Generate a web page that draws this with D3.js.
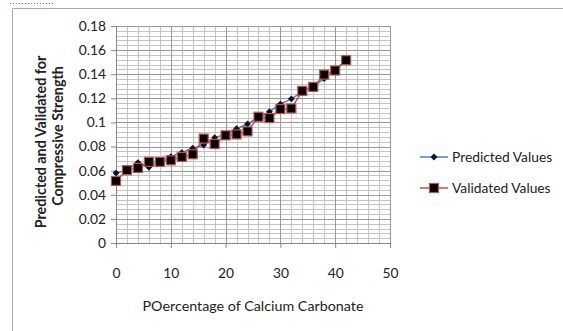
<!DOCTYPE html>
<html>
  <head>
    <meta charset="UTF-8">
    <title>Predicted vs Validated Compressive Strength</title>
    <script src="https://d3js.org/d3.v7.min.js"></script>
    <style>
      body { margin: 0; background: #fff; }
      svg text { font-family: Lato, "Open Sans", sans-serif; fill: #222; }
    </style>
  </head>
  <body>
    <script>

const percentage = [0, 2, 4, 6, 8, 10, 12, 14, 16, 18, 20, 22, 24, 26, 28, 30, 32, 34, 36, 38, 40, 42];
const predicted = [0.058, 0.0605, 0.0667, 0.0628, 0.0675, 0.0717, 0.075, 0.0786, 0.0813, 0.0874, 0.0901, 0.0948,
  0.0987, 0.1042, 0.1089, 0.1152, 0.1196, 0.1254, 0.130, 0.1364, 0.1439, 0.1516];
const validated = [0.0515, 0.0604, 0.0623, 0.0673, 0.0673, 0.0686, 0.0714, 0.0736, 0.0866, 0.0821, 0.0893, 0.0901,
  0.0926, 0.1047, 0.1036, 0.1111, 0.1116, 0.1262, 0.1295, 0.1397, 0.1431, 0.1516];
const xTicks = [0, 10, 20, 30, 40, 50];
const yTicks = [0, 0.02, 0.04, 0.06, 0.08, 0.1, 0.12, 0.14, 0.16, 0.18];
const seriesNames = ["Predicted Values", "Validated Values"];

const svgWidth = 563;
const svgHeight = 331;
const margin = {top: 26, right: 173, bottom: 88, left: 116};
const chartWidth = svgWidth - margin.left - margin.right;
const chartHeight = svgHeight - margin.top - margin.bottom;
const fontSize = 13.8;

const svg = d3.select("body")
  .append("svg")
  .attr("width", svgWidth)
  .attr("height", svgHeight);

// frame of the chart object
svg.append("path")
  .attr("d", "M12.5," + svgHeight + "V8.5H" + svgWidth)
  .attr("fill", "none")
  .attr("stroke", "#aaa");
svg.append("line")
  .attr("x1", 10).attr("x2", 55).attr("y1", 3.5).attr("y2", 3.5)
  .attr("stroke", "#e04040")
  .attr("stroke-dasharray", "1,2");

const chart = svg.append("g")
  .attr("transform", "translate(" + margin.left + "," + margin.top + ")");

const xScale = d3.scaleLinear().domain([0, 50]).range([0, chartWidth]);
const yScale = d3.scaleLinear().domain([0, 0.18]).range([chartHeight, 0]);

// minor grid
chart.append("g")
  .selectAll("line")
  .data(d3.range(0, 0.1801, 0.004))
  .join("line")
  .attr("x1", 0).attr("x2", chartWidth)
  .attr("y1", d => Math.round(yScale(d)) + 0.5)
  .attr("y2", d => Math.round(yScale(d)) + 0.5)
  .attr("stroke", "#c4c4c4");
chart.append("g")
  .selectAll("line")
  .data(d3.range(0, 50.01, 2))
  .join("line")
  .attr("y1", 0).attr("y2", chartHeight)
  .attr("x1", d => Math.round(xScale(d)) + 0.5)
  .attr("x2", d => Math.round(xScale(d)) + 0.5)
  .attr("stroke", "#c4c4c4");

// major grid
chart.append("g")
  .selectAll("line")
  .data(yTicks)
  .join("line")
  .attr("x1", 0).attr("x2", chartWidth)
  .attr("y1", d => Math.round(yScale(d)) + 0.5)
  .attr("y2", d => Math.round(yScale(d)) + 0.5)
  .attr("stroke", "#999");
chart.append("g")
  .selectAll("line")
  .data(xTicks)
  .join("line")
  .attr("y1", 0).attr("y2", chartHeight)
  .attr("x1", d => Math.round(xScale(d)) + 0.5)
  .attr("x2", d => Math.round(xScale(d)) + 0.5)
  .attr("stroke", "#999");

const xAxis = d3.axisBottom(xScale).tickValues(xTicks).tickSize(5).tickPadding(20).tickFormat(d3.format("d"));
const yAxis = d3.axisLeft(yScale).tickValues(yTicks).tickSize(5).tickPadding(5).tickFormat(d => d === 0 ? "0" : String(+d.toFixed(2)));

const gx = chart.append("g")
  .attr("transform", "translate(0," + chartHeight + ")")
  .call(xAxis);
const gy = chart.append("g").call(yAxis);
[gx, gy].forEach(g => {
  g.selectAll("path, line").attr("stroke", "#888");
  g.selectAll("text").attr("font-size", fontSize).attr("fill", "#222")
    .attr("font-family", "Lato, 'Open Sans', sans-serif");
});

// series
const line = d3.line()
  .x((d, i) => xScale(percentage[i]))
  .y(d => yScale(d));

chart.append("path")
  .datum(predicted)
  .attr("d", line)
  .attr("fill", "none")
  .attr("stroke", "#4a7ebb")
  .attr("stroke-width", 1.5);

chart.selectAll(".pred")
  .data(predicted)
  .join("path")
  .attr("class", "pred")
  .attr("transform", (d, i) => "translate(" + xScale(percentage[i]) + "," + yScale(d) + ")")
  .attr("d", d3.symbol(d3.symbolDiamond2, 30))
  .attr("fill", "#0a0f2a");

chart.append("path")
  .datum(validated)
  .attr("d", line)
  .attr("fill", "none")
  .attr("stroke", "#c0504d")
  .attr("stroke-width", 1.5);

chart.selectAll(".val")
  .data(validated)
  .join("rect")
  .attr("class", "val")
  .attr("x", (d, i) => xScale(percentage[i]) - 4.5)
  .attr("y", d => yScale(d) - 4.5)
  .attr("width", 9)
  .attr("height", 9)
  .attr("fill", "#000")
  .attr("stroke", "#c0504d")
  .attr("stroke-width", 1.2);

// axis titles
svg.append("text")
  .attr("transform", "translate(46,142) rotate(-90)")
  .attr("text-anchor", "middle")
  .attr("font-size", 14.3)
  .attr("font-weight", "bold")
  .text("Predicted and Validated for");
svg.append("text")
  .attr("transform", "translate(63,136) rotate(-90)")
  .attr("text-anchor", "middle")
  .attr("font-size", 14.3)
  .attr("font-weight", "bold")
  .text("Compressive Strength");
svg.append("text")
  .attr("x", 253)
  .attr("y", 311)
  .attr("text-anchor", "middle")
  .attr("font-size", 14.3)
  .text("POercentage of Calcium Carbonate");

// legend
const legend = svg.append("g").attr("transform", "translate(420,157)");
const item = legend.selectAll("g")
  .data(seriesNames)
  .join("g")
  .attr("transform", (d, i) => "translate(0," + i * 31 + ")");
item.append("line")
  .attr("x1", 0).attr("x2", 28)
  .attr("stroke", (d, i) => i === 0 ? "#4a7ebb" : "#c0504d")
  .attr("stroke-width", 1.5);
item.filter((d, i) => i === 0)
  .append("path")
  .attr("transform", "translate(14,0)")
  .attr("d", d3.symbol(d3.symbolDiamond2, 30))
  .attr("fill", "#0a0f2a");
item.filter((d, i) => i === 1)
  .append("rect")
  .attr("x", 9.5).attr("y", -4.5).attr("width", 9).attr("height", 9)
  .attr("fill", "#000").attr("stroke", "#c0504d").attr("stroke-width", 1.2);
item.append("text")
  .attr("x", 32)
  .attr("dy", "0.35em")
  .attr("font-size", fontSize)
  .text(d => d);

    </script>
  </body>
</html>
